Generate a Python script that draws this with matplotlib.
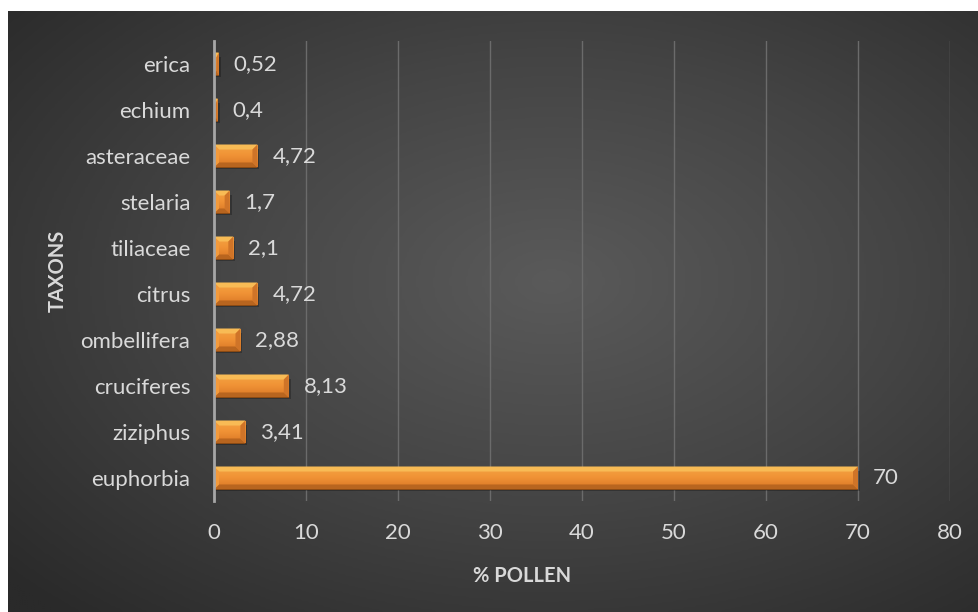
import numpy as np
import matplotlib
matplotlib.use("Agg")
import matplotlib.pyplot as plt
from matplotlib.patches import Polygon
from matplotlib.colors import LinearSegmentedColormap

plt.rcParams['font.family'] = ['Lato', 'DejaVu Sans']

taxa = ["euphorbia", "ziziphus", "cruciferes", "ombellifera", "citrus",
        "tiliaceae", "stelaria", "asteraceae", "echium", "erica"]
pollen = [70, 3.41, 8.13, 2.88, 4.72, 2.1, 1.7, 4.72, 0.4, 0.52]
xticks = [0, 10, 20, 30, 40, 50, 60, 70, 80]

W, H = 979, 612
fig = plt.figure(figsize=(W / 100, H / 100), dpi=100, facecolor="white")

# dark radial-gradient panel
bg = fig.add_axes([8 / W, 0, 1 - 8 / W, 1 - 11 / H])
bg.set_axis_off()
gx, gy = np.meshgrid(np.linspace(0, 1, 400), np.linspace(0, 1, 300))
d = np.sqrt(((gx - 0.56) / 0.75) ** 2 + ((gy - 0.45) / 0.75) ** 2)
d = np.clip(d, 0, 1)
bg_cmap = LinearSegmentedColormap.from_list("bg", ["#5a5a5a", "#444444", "#2a2a2a"])
bg.imshow(d, cmap=bg_cmap, aspect="auto", extent=[0, 1, 0, 1], origin="upper",
          interpolation="bilinear")
bg.set_xlim(0, 1)
bg.set_ylim(0, 1)

left, right, top, bottom = 214, 950, 41, 501
ax = fig.add_axes([left / W, 1 - bottom / H, (right - left) / W, (bottom - top) / H])
ax.set_facecolor("none")
ax.set_xlim(0, 80)
ax.set_ylim(-0.5, len(taxa) - 0.5)

text_col = "#d9d9d9"
fs = 16
ax.set_xticks(xticks)
ax.set_xticklabels([str(t) for t in xticks], color=text_col, fontsize=fs)
ax.set_yticks(range(len(taxa)))
ax.set_yticklabels(taxa, color=text_col, fontsize=fs)
ax.tick_params(axis="both", length=0)
ax.tick_params(axis="x", pad=16)
ax.tick_params(axis="y", pad=17)
ax.xaxis.grid(True, color="#6b6b6b", linewidth=1.0)
ax.set_axisbelow(True)
for s in ["top", "right", "bottom"]:
    ax.spines[s].set_visible(False)
ax.spines["left"].set_color("#a6a6a6")
ax.spines["left"].set_linewidth(2)
ax.spines["left"].set_zorder(5)

bar_h = 0.5
bars = ax.barh(range(len(taxa)), pollen, height=bar_h, color="#ea8a2e",
               edgecolor="none", zorder=3)

# unit conversion for the bevel size
px_per_x = (right - left) / 80.0
px_per_y = (bottom - top) / len(taxa)
bev_px = 5.0

grad_cmap = LinearSegmentedColormap.from_list("barg", ["#d97726", "#f09235", "#f4a544"])
for rect, v in zip(bars, pollen):
    x0, y0 = rect.get_x(), rect.get_y()
    x1, y1 = x0 + rect.get_width(), y0 + rect.get_height()
    # soft shadow
    sh = Polygon([(x0, y0 - 0.04), (x1 + 2 / px_per_x, y0 - 0.04),
                  (x1 + 2 / px_per_x, y1 - 0.1), (x0, y1 - 0.1)],
                 closed=True, facecolor="black", alpha=0.25, edgecolor="none", zorder=2)
    ax.add_patch(sh)
    # body gradient
    img = ax.imshow(np.linspace(0, 1, 50).reshape(-1, 1), cmap=grad_cmap,
                    extent=[x0, x1, y0, y1], origin="lower", aspect="auto",
                    interpolation="bilinear", zorder=3)
    img.set_clip_path(rect)
    wpx = (x1 - x0) * px_per_x
    b = min(bev_px, wpx / 2.0)
    bx = b / px_per_x
    by = min(bev_px, (y1 - y0) * px_per_y / 2.0) / px_per_y
    top_poly = [(x0, y1), (x1, y1), (x1 - bx, y1 - by), (x0 + bx, y1 - by)]
    bot_poly = [(x0, y0), (x1, y0), (x1 - bx, y0 + by), (x0 + bx, y0 + by)]
    left_poly = [(x0, y0), (x0, y1), (x0 + bx, y1 - by), (x0 + bx, y0 + by)]
    right_poly = [(x1, y0), (x1, y1), (x1 - bx, y1 - by), (x1 - bx, y0 + by)]
    for poly, col in [(top_poly, "#f8bb55"), (bot_poly, "#b8651f"),
                      (left_poly, "#f39a3b"), (right_poly, "#cf7428")]:
        ax.add_patch(Polygon(poly, closed=True, facecolor=col, edgecolor="none", zorder=4))
    ax.add_patch(Polygon([(x0, y0), (x1, y0), (x1, y0 + 0.015), (x0, y0 + 0.015)],
                         closed=True, facecolor="#8a4a14", edgecolor="none", zorder=4))
    label = f"{v:g}".replace(".", ",")
    ax.text(x1 + 15 / px_per_x, rect.get_y() + rect.get_height() / 2, label,
            color=text_col, fontsize=fs, ha="left", va="center", zorder=6)

fig.text(522 / W, 1 - 576 / H, "% POLLEN", color=text_col, fontsize=14.5,
         fontweight="bold", ha="center", va="center")
fig.text(58 / W, 1 - 271 / H, "TAXONS", color=text_col, fontsize=14.5,
         fontweight="bold", ha="center", va="center", rotation=90)

fig.savefig("out.png", dpi=100, facecolor="white")
